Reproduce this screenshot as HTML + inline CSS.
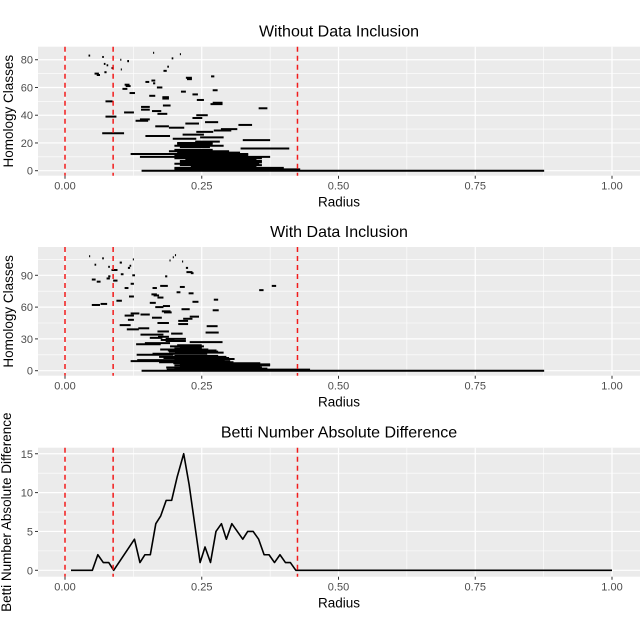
<!DOCTYPE html>
<html><head><meta charset="utf-8">
<style>
body{margin:0;background:#fff;}
svg{display:block;font-family:"Liberation Sans",sans-serif;}
</style></head>
<body>
<svg id="chart" width="640" height="617" viewBox="0 0 640 617" xmlns="http://www.w3.org/2000/svg"></svg>
<script>
// Panel 1: Without Data Inclusion (class index, birth, death)
const p1Idx   = [0,1,2,3,4,5,6,7,8,9,10,11,12,13,14,15,16,17,18,19,20,21,22,23,24,25,26,27,28,29,30,31,32,33,34,35,36,37,38,39,40,41,42,43,44,45,46,47,48,49,50,51,52,53,54,55,56,57,58,59,60,61,62,63,64,65,66,67,68,69,70,71,72,73,74,75,76,77,79,80,81,82,83,84,85,79];
const p1Birth = [0.14,0.2,0.2,0.23,0.21,0.2,0.21,0.21,0.22,0.2,0.137,0.2,0.12,0.205,0.19,0.2,0.321,0.21,0.2,0.205,0.205,0.238,0.325,0.197,0.247,0.147,0.215,0.068,0.24,0.272,0.285,0.19,0.165,0.317,0.22,0.256,0.129,0.137,0.233,0.074,0.24,0.169,0.108,0.159,0.139,0.354,0.139,0.179,0.266,0.27,0.074,0.241,0.178,0.178,0.154,0.233,0.118,0.212,0.27,0.105,0.168,0.111,0.109,0.161,0.147,0.158,0.223,0.221,0.267,0.058,0.054,0.072,0.18,0.102,0.085,0.187,0.076,0.071,0.114,0.101,0.195,0.068,0.043,0.21,0.161,0.114];
const p1Death = [0.876,0.43,0.4,0.35,0.36,0.355,0.36,0.36,0.35,0.36,0.375,0.335,0.335,0.32,0.3,0.27,0.41,0.265,0.29,0.27,0.27,0.283,0.375,0.24,0.29,0.192,0.254,0.108,0.271,0.304,0.315,0.218,0.19,0.342,0.245,0.28,0.152,0.155,0.251,0.094,0.261,0.187,0.126,0.176,0.155,0.37,0.155,0.193,0.288,0.288,0.087,0.254,0.19,0.19,0.165,0.243,0.128,0.221,0.279,0.114,0.178,0.12,0.118,0.165,0.154,0.165,0.232,0.232,0.273,0.064,0.062,0.076,0.186,0.104,0.089,0.19,0.079,0.074,0.117,0.103,0.198,0.071,0.046,0.212,0.163,0.117];

// Panel 2: With Data Inclusion
const p2Idx   = [0,1,2,3,4,5,6,7,8,9,10,11,12,13,14,15,16,17,18,19,20,21,22,23,24,25,26,27,28,29,30,31,32,34,35,36,37,39,40,42,43,44,45,47,48,49,50,51,52,53,54,55,56,57,58,60,61,62,63,64,65,66,67,69,70,71,72,73,74,76,78,79,80,80,82,84,85,86,87,89,89,90,91,92,93,95,97,97,98,99,100,102,103,104,105,106,107,108,109,78];
const p2Birth = [0.14,0.186,0.2,0.185,0.21,0.2,0.21,0.198,0.172,0.12,0.132,0.2,0.18,0.172,0.2,0.131,0.16,0.201,0.19,0.188,0.174,0.2,0.21,0.192,0.205,0.13,0.146,0.228,0.184,0.175,0.184,0.155,0.17,0.138,0.194,0.257,0.169,0.113,0.134,0.259,0.1,0.207,0.169,0.207,0.115,0.216,0.159,0.228,0.109,0.138,0.12,0.181,0.177,0.27,0.213,0.165,0.179,0.049,0.065,0.155,0.233,0.094,0.272,0.169,0.117,0.162,0.158,0.226,0.204,0.355,0.109,0.21,0.174,0.378,0.12,0.058,0.088,0.049,0.076,0.079,0.183,0.123,0.102,0.23,0.222,0.085,0.115,0.221,0.079,0.118,0.054,0.1,0.214,0.191,0.124,0.068,0.197,0.044,0.201,0.16];
const p2Death = [0.876,0.448,0.37,0.36,0.357,0.375,0.375,0.357,0.308,0.302,0.292,0.31,0.3,0.295,0.28,0.198,0.26,0.29,0.28,0.277,0.262,0.25,0.25,0.254,0.25,0.175,0.192,0.288,0.221,0.2,0.221,0.178,0.19,0.18,0.215,0.281,0.19,0.135,0.154,0.279,0.12,0.225,0.19,0.225,0.126,0.233,0.177,0.245,0.126,0.155,0.136,0.195,0.193,0.281,0.228,0.18,0.192,0.064,0.077,0.166,0.244,0.104,0.28,0.18,0.126,0.172,0.168,0.235,0.211,0.363,0.116,0.219,0.188,0.386,0.126,0.065,0.096,0.056,0.082,0.083,0.187,0.128,0.107,0.235,0.233,0.096,0.119,0.225,0.082,0.121,0.057,0.104,0.216,0.193,0.126,0.071,0.199,0.046,0.203,0.168];

// Panel 3: Betti number absolute difference
const p3X = [0.011,0.05,0.06,0.07,0.08,0.089,0.127,0.137,0.146,0.156,0.166,0.175,0.185,0.195,0.205,0.217,0.227,0.247,0.256,0.266,0.276,0.286,0.295,0.305,0.315,0.325,0.334,0.344,0.354,0.364,0.373,0.383,0.393,0.403,0.412,0.422,1.0];
const p3Y = [0,0,2,1,1,0,4,1,2,2,6,7,9,9,12,15,11,1,3,1,5,6,4,6,5,4,5,5,4,2,2,1,2,1,1,0,0];

const xTicks = [0,0.25,0.5,0.75,1.0];
const xTickLabels = ["0.00","0.25","0.50","0.75","1.00"];
const vLines = [0,0.088,0.425];

const NS="http://www.w3.org/2000/svg";
const svg=document.getElementById('chart');
function mk(tag,attrs,parent){const e=document.createElementNS(NS,tag);for(const k in attrs)e.setAttribute(k,attrs[k]);(parent||svg).appendChild(e);return e;}
const L=38,R=640;
const xs=v=>65+v*547;

function panel(cfg){
  const g=mk('g',{});
  
  
  const ys=v=>cfg.y0-v*cfg.k;
  const bg=mk('rect',{x:L,y:cfg.top,width:R-L,height:cfg.bot-cfg.top,fill:'#ebebeb'},g);
  
  
  // minor grid
  for(let i=0;i<xTicks.length-1;i++){const x=xs((xTicks[i]+xTicks[i+1])/2);mk('line',{x1:x,x2:x,y1:cfg.top,y2:cfg.bot,stroke:'#fff','stroke-width':0.6},g);}
  cfg.minor.forEach(v=>{const y=ys(v);mk('line',{x1:L,x2:R,y1:y,y2:y,stroke:'#fff','stroke-width':0.6},g);});
  xTicks.forEach(v=>{const x=xs(v);mk('line',{x1:x,x2:x,y1:cfg.top,y2:cfg.bot,stroke:'#fff','stroke-width':1.2},g);});
  cfg.yTicks.forEach(v=>{const y=ys(v);mk('line',{x1:L,x2:R,y1:y,y2:y,stroke:'#fff','stroke-width':1.2},g);});
  // marks
  const mg=mk('g',{},g);
  
  
  cfg.draw(mg,ys);
  // red dashed lines
  vLines.forEach(v=>{const x=xs(v);const l=mk('line',{x1:x,x2:x,y1:cfg.top,y2:cfg.bot,stroke:'#f21b1b','stroke-width':1.5,'stroke-dasharray':'5,4'},g);
    
    });
  // axes ticks & labels
  cfg.yTicks.forEach(v=>{const y=ys(v);mk('line',{x1:L-3,x2:L,y1:y,y2:y,stroke:'#333','stroke-width':1},g);
    const t=mk('text',{x:L-5,y:y+4,'text-anchor':'end','font-size':11,fill:'#4d4d4d'},g);t.textContent=String(v);
    
    });
  xTicks.forEach((v,i)=>{const x=xs(v);mk('line',{x1:x,x2:x,y1:cfg.bot,y2:cfg.bot+3,stroke:'#333','stroke-width':1},g);
    const t=mk('text',{x:x,y:cfg.bot+14,'text-anchor':'middle','font-size':11,fill:'#4d4d4d'},g);t.textContent=xTickLabels[i];
    
    });
  const xt=mk('text',{x:339,y:cfg.bot+31,'text-anchor':'middle','font-size':13.5,fill:'#000'},g);xt.textContent='Radius';
  
  
  const cy=(cfg.top+cfg.bot)/2;
  const yt=mk('text',{x:0,y:0,'text-anchor':'middle','font-size':13.5,fill:'#000',transform:`translate(${cfg.ytx},${cy}) rotate(-90)`},g);yt.textContent=cfg.ytitle;
  
  
  const tt=mk('text',{x:339,y:cfg.top-10,'text-anchor':'middle','font-size':16,fill:'#000'},g);tt.textContent=cfg.title;
  
  
}
function bars(idx,b,d){return (mg,ys)=>{idx.forEach((iv,i)=>{const y=ys(iv);const l=mk('line',{x1:xs(b[i]),x2:xs(d[i]),y1:y,y2:y,stroke:'#000','stroke-width':2},mg);
  
  });};}

panel({name:'panel-without-inclusion',title:'Without Data Inclusion',ytitle:'Homology Classes',ytx:13,top:46.7,bot:175.7,y0:170.7,k:1.387,
  yTicks:[0,20,40,60,80],minor:[10,30,50,70],draw:bars(p1Idx,p1Birth,p1Death)});
panel({name:'panel-with-inclusion',title:'With Data Inclusion',ytitle:'Homology Classes',ytx:13,top:247,bot:375.7,y0:370.7,k:1.06,
  yTicks:[0,30,60,90],minor:[15,45,75,105],draw:bars(p2Idx,p2Birth,p2Death)});
panel({name:'panel-betti-difference',title:'Betti Number Absolute Difference',ytitle:'Betti Number Absolute Difference',ytx:11,top:447.7,bot:576.7,y0:570.3,k:7.77,
  yTicks:[0,5,10,15],minor:[2.5,7.5,12.5],draw:(mg,ys)=>{
    const pts=p3X.map((v,i)=>xs(v)+','+ys(p3Y[i])).join(' ');
    const pl=mk('polyline',{points:pts,fill:'none',stroke:'#000','stroke-width':1.6,'stroke-linejoin':'round'},mg);
    
    
  }});
</script>
</body></html>
